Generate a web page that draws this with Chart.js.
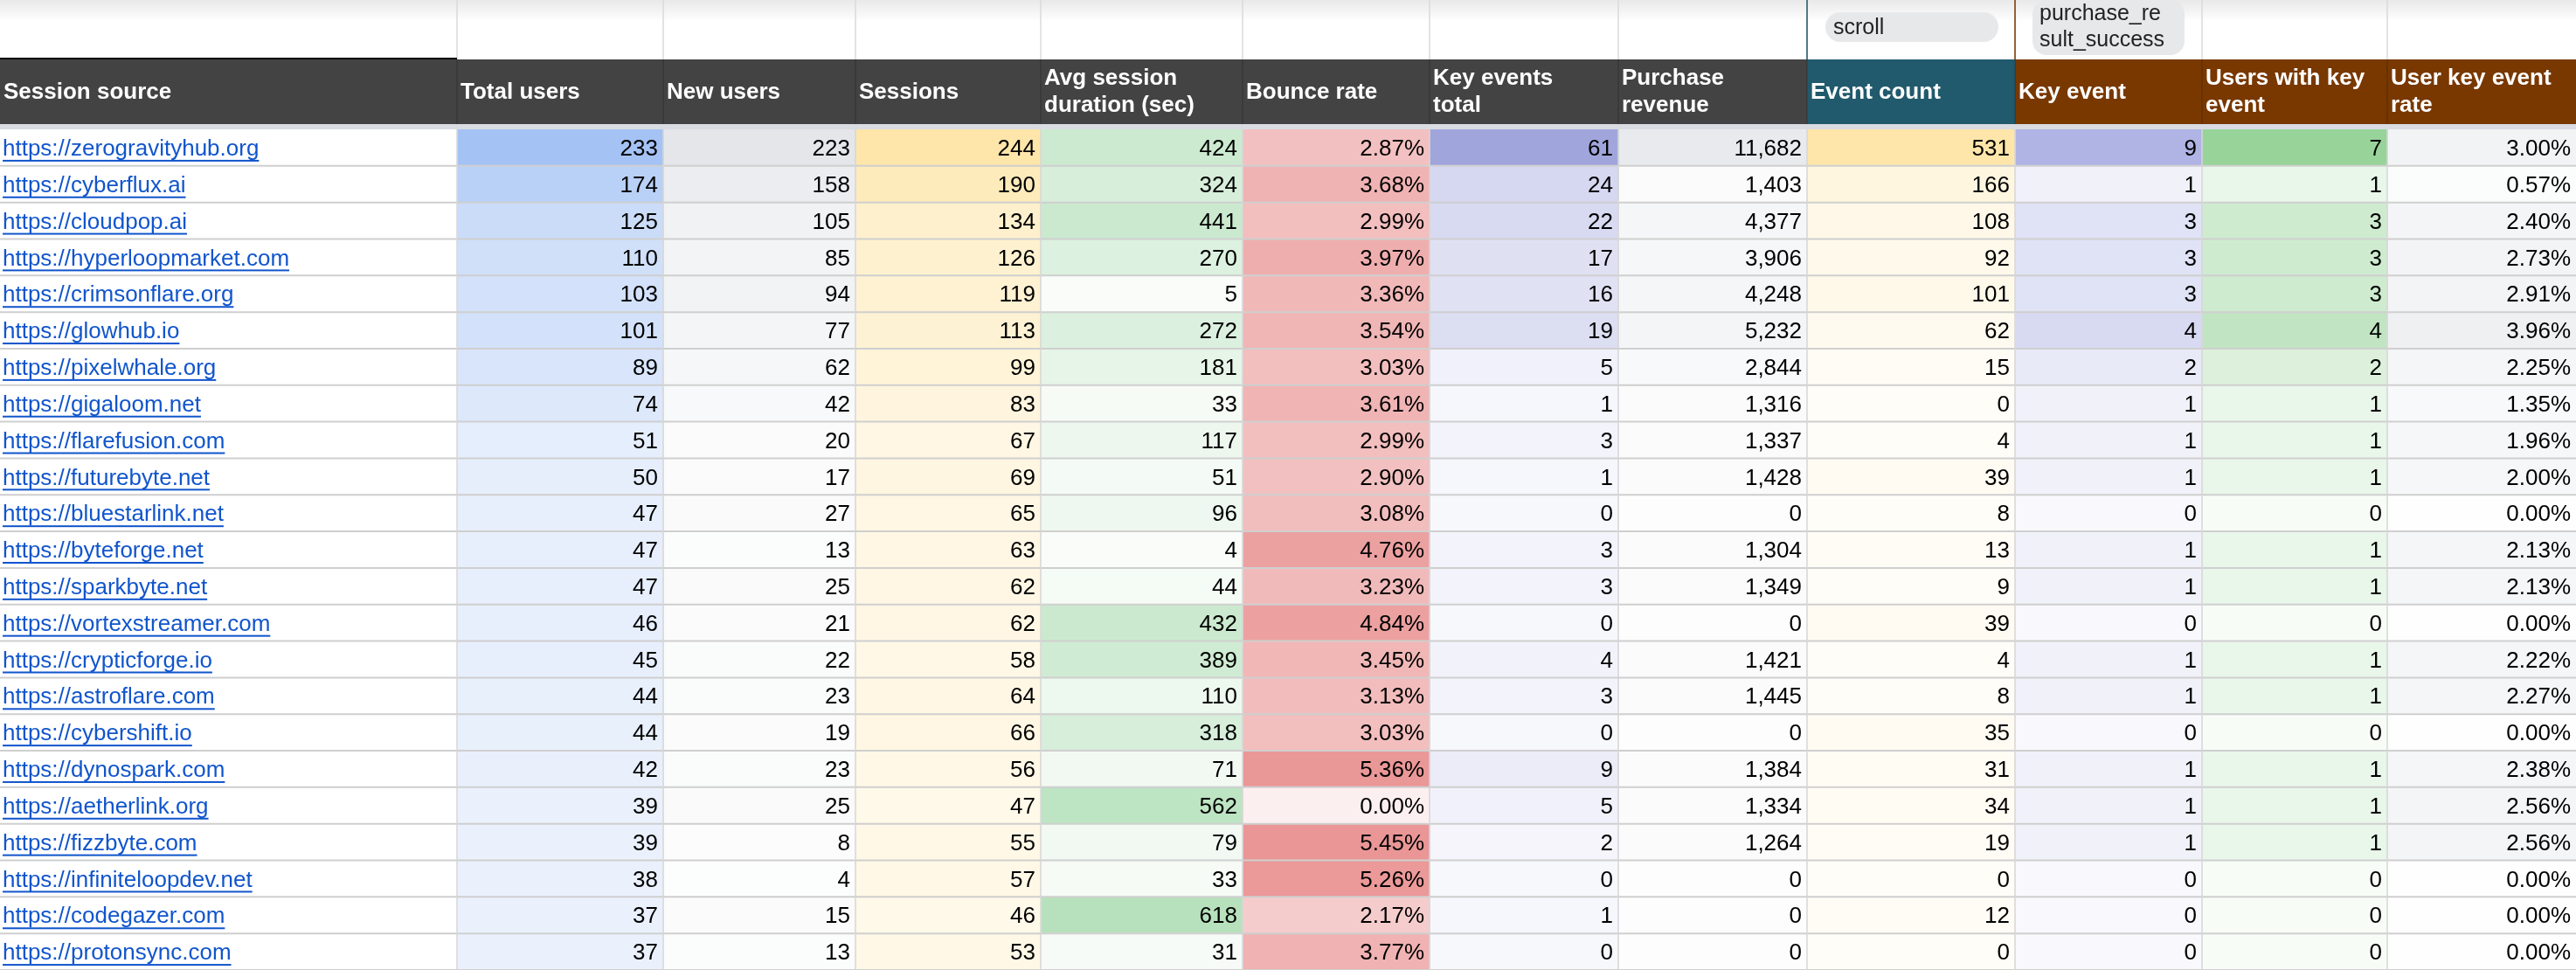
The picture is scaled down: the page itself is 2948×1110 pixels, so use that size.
<!DOCTYPE html>
<html><head><meta charset="utf-8">
<script src="https://cdn.jsdelivr.net/npm/chart.js@4/dist/chart.umd.min.js"></script>
<style>html,body{margin:0;padding:0;background:#fff;overflow:hidden}#w{width:2948px;height:1110px}</style>
</head><body><div id="w"><canvas id="c"></canvas></div>
<script>
const sources=["https://zerogravityhub.org","https://cyberflux.ai","https://cloudpop.ai","https://hyperloopmarket.com","https://crimsonflare.org","https://glowhub.io","https://pixelwhale.org","https://gigaloom.net","https://flarefusion.com","https://futurebyte.net","https://bluestarlink.net","https://byteforge.net","https://sparkbyte.net","https://vortexstreamer.com","https://crypticforge.io","https://astroflare.com","https://cybershift.io","https://dynospark.com","https://aetherlink.org","https://fizzbyte.com","https://infiniteloopdev.net","https://codegazer.com","https://protonsync.com"];
const totalUsers=[233,174,125,110,103,101,89,74,51,50,47,47,47,46,45,44,44,42,39,39,38,37,37];
const newUsers=[223,158,105,85,94,77,62,42,20,17,27,13,25,21,22,23,19,23,25,8,4,15,13];
const sessions=[244,190,134,126,119,113,99,83,67,69,65,63,62,62,58,64,66,56,47,55,57,46,53];
const avgDuration=[424,324,441,270,5,272,181,33,117,51,96,4,44,432,389,110,318,71,562,79,33,618,31];
const bounceRate=[2.87,3.68,2.99,3.97,3.36,3.54,3.03,3.61,2.99,2.90,3.08,4.76,3.23,4.84,3.45,3.13,3.03,5.36,0.00,5.45,5.26,2.17,3.77];
const keyEventsTotal=[61,24,22,17,16,19,5,1,3,1,0,3,3,0,4,3,0,9,5,2,0,1,0];
const purchaseRevenue=[11682,1403,4377,3906,4248,5232,2844,1316,1337,1428,0,1304,1349,0,1421,1445,0,1384,1334,1264,0,0,0];
const eventCount=[531,166,108,92,101,62,15,0,4,39,8,13,9,39,4,8,35,31,34,19,0,12,0];
const keyEvent=[9,1,3,3,3,4,2,1,1,1,0,1,1,0,1,1,0,1,1,1,0,0,0];
const usersWithKeyEvent=[7,1,3,3,3,4,2,1,1,1,0,1,1,0,1,1,0,1,1,1,0,0,0];
const userKeyEventRate=[3.00,0.57,2.40,2.73,2.91,3.96,2.25,1.35,1.96,2.00,0.00,2.13,2.13,0.00,2.22,2.27,0.00,2.38,2.56,2.56,0.00,0.00,0.00];
const headers=[["Session source"],["Total users"],["New users"],["Sessions"],["Avg session","duration (sec)"],["Bounce rate"],["Key events","total"],["Purchase","revenue"],["Event count"],["Key event"],["Users with key","event"],["User key event","rate"]];

const edges=[0,523,759,979,1191,1422,1636,1852,2068,2306,2520,2732,2948];
const cols=[
 {v:sources,c:null,f:s=>s},
 {v:totalUsers,c:[164,194,244],f:n=>String(n)},
 {v:newUsers,c:[228,230,234],f:n=>String(n)},
 {v:sessions,c:[254,230,170],f:n=>String(n)},
 {v:avgDuration,c:[183,225,189],f:n=>String(n)},
 {v:bounceRate,c:[234,150,150],f:n=>n.toFixed(2)+"%"},
 {v:keyEventsTotal,c:[160,166,220],f:n=>String(n)},
 {v:purchaseRevenue,c:[232,234,237],f:n=>n.toLocaleString("en-US")},
 {v:eventCount,c:[254,230,170],f:n=>String(n)},
 {v:keyEvent,c:[176,180,228],f:n=>String(n)},
 {v:usersWithKeyEvent,c:[152,212,154],f:n=>String(n)},
 {v:userKeyEventRate,c:[238,240,242],f:n=>n.toFixed(2)+"%"}
];
function heat(v,max,c,min){if(!c)return "#ffffff";const base=min||0.08;const t=base+(1-base)*(max?v/max:0);
 return `rgb(${Math.round(255+(c[0]-255)*t)},${Math.round(255+(c[1]-255)*t)},${Math.round(255+(c[2]-255)*t)})`;}
const datasets=cols.map((col,i)=>{const mx=col.c?Math.max(...col.v):0;
 return {data:sources.map(()=>[edges[i],edges[i+1]]),
 backgroundColor:col.v.map(v=>heat(v,mx,col.c,i===5?0.15:0.08)),
 barPercentage:1,categoryPercentage:1,borderWidth:0,grouped:false};});
const FONT='"Liberation Sans", Arial, sans-serif';
const tablePlugin={id:'tbl',afterDatasetsDraw(ch){
 const g=ch.ctx,x=ch.scales.x,y=ch.scales.y;const top=ch.chartArea.top;
 const px=v=>x.getPixelForValue(v);
 const rh=(ch.chartArea.bottom-top)/sources.length;
 g.save();
 g.fillStyle='#fff';g.fillRect(0,0,2948,top);
 const grd=g.createLinearGradient(0,0,0,25);grd.addColorStop(0,'#e9e9e9');grd.addColorStop(1,'#ffffff');
 g.fillStyle=grd;g.fillRect(0,0,2948,25);
 g.strokeStyle='#dadada';g.lineWidth=1.5;
 for(let i=1;i<12;i++){g.beginPath();g.moveTo(px(edges[i]),0);g.lineTo(px(edges[i]),68);g.stroke();}
 g.strokeStyle='#215866';g.beginPath();g.moveTo(px(2068),0);g.lineTo(px(2068),68);g.stroke();
 g.strokeStyle='#7a3700';g.beginPath();g.moveTo(px(2306),0);g.lineTo(px(2306),68);g.stroke();
 g.fillStyle='#e6e8ea';
 g.beginPath();g.roundRect(px(2089),14,198,34,17);g.fill();
 g.beginPath();g.roundRect(px(2326),0,174,63,16);g.fill();
 g.fillStyle='#222';g.font='25px '+FONT;g.textBaseline='middle';g.textAlign='left';
 g.fillText('scroll',px(2098),32);g.fillText('purchase_re',px(2334),16);g.fillText('sult_success',px(2334),46);
 g.fillStyle='#d9dce2';g.fillRect(0,142,2948,top-142);
 g.fillStyle='#000';g.fillRect(0,66,523,4);
 for(let i=0;i<12;i++){g.fillStyle=i===8?'#215a6c':(i>=9?'#783800':'#434343');
  g.fillRect(px(edges[i]),68,px(edges[i+1])-px(edges[i]),74);
  g.fillStyle='#fff';g.font='bold 26px '+FONT;g.textAlign='left';
  const h=headers[i];
  if(h.length===1)g.fillText(h[0],px(edges[i])+4,106);
  else{g.fillText(h[0],px(edges[i])+4,90);g.fillText(h[1],px(edges[i])+4,121);}
 }
 g.strokeStyle='rgba(0,0,0,0.25)';g.lineWidth=1;
 for(let i=1;i<12;i++){g.beginPath();g.moveTo(px(edges[i]),68);g.lineTo(px(edges[i]),142);g.stroke();}
 g.strokeStyle='#cfcfcf';g.lineWidth=2;
 for(let r=1;r<=sources.length;r++){const yy=top+r*rh;g.beginPath();g.moveTo(0,yy);g.lineTo(2948,yy);g.stroke();}
 g.strokeStyle='#d6d6d6';g.lineWidth=1.5;
 for(let i=1;i<12;i++){g.beginPath();g.moveTo(px(edges[i]),top);g.lineTo(px(edges[i]),ch.chartArea.bottom);g.stroke();}
 g.font='26px '+FONT;
 sources.forEach((s,r)=>{const cy=y.getPixelForValue(r)+2;
  cols.forEach((col,i)=>{
   const t=col.f(col.v[r]);
   if(i===0){g.fillStyle='#1155cc';g.textAlign='left';g.fillText(t,px(edges[0])+3,cy);
    const w=g.measureText(t).width;g.fillRect(3,cy+12,w,2);}
   else{g.fillStyle='#000';g.textAlign='right';g.fillText(t,px(edges[i+1])-6,cy);}
  });});
 g.restore();}};
new Chart(document.getElementById('c'),{type:'bar',
 data:{labels:sources,datasets},
 options:{indexAxis:'y',responsive:true,maintainAspectRatio:false,animation:false,
  layout:{padding:{top:148,left:0,right:0,bottom:-43}},
  plugins:{legend:{display:false},tooltip:{enabled:false}},
  scales:{x:{type:'linear',min:0,max:2948,display:false},y:{display:false,offset:true}}},
 plugins:[tablePlugin]});
</script></body></html>
